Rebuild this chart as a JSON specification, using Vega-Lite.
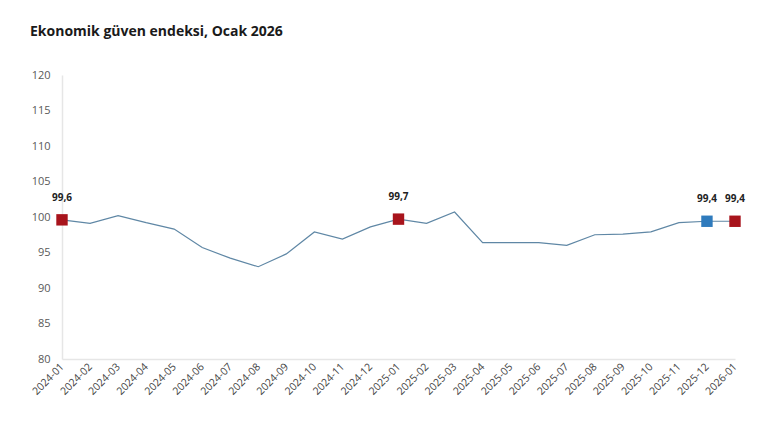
{
  "$schema": "https://vega.github.io/schema/vega-lite/v6.json",
  "autosize": "none",
  "width": 673,
  "height": 284,
  "padding": {"left": 62, "top": 75, "right": 35, "bottom": 78},
  "background": "white",
  "config": {
    "view": {"stroke": null},
    "font": "Open Sans",
    "locale": {"number": {"decimal": ",", "thousands": ".", "grouping": [3], "currency": ["", " TL"]}}
  },
  "title": {
    "text": "Ekonomik güven endeksi, Ocak 2026",
    "anchor": "start",
    "frame": "group",
    "fontSize": 14,
    "fontWeight": "bold",
    "font": "Open Sans",
    "color": "#1a1a1a",
    "dx": -32,
    "offset": 30
  },
  "data": {
    "values": [
      {"ay": "2024-01", "deger": 99.6, "vurgu": "ocak"},
      {"ay": "2024-02", "deger": 99.1},
      {"ay": "2024-03", "deger": 100.2},
      {"ay": "2024-04", "deger": 99.2},
      {"ay": "2024-05", "deger": 98.3},
      {"ay": "2024-06", "deger": 95.7},
      {"ay": "2024-07", "deger": 94.2},
      {"ay": "2024-08", "deger": 93.0},
      {"ay": "2024-09", "deger": 94.8},
      {"ay": "2024-10", "deger": 97.9},
      {"ay": "2024-11", "deger": 96.9},
      {"ay": "2024-12", "deger": 98.6},
      {"ay": "2025-01", "deger": 99.7, "vurgu": "ocak"},
      {"ay": "2025-02", "deger": 99.1},
      {"ay": "2025-03", "deger": 100.7},
      {"ay": "2025-04", "deger": 96.4},
      {"ay": "2025-05", "deger": 96.4},
      {"ay": "2025-06", "deger": 96.4},
      {"ay": "2025-07", "deger": 96.0},
      {"ay": "2025-08", "deger": 97.5},
      {"ay": "2025-09", "deger": 97.6},
      {"ay": "2025-10", "deger": 97.9},
      {"ay": "2025-11", "deger": 99.2},
      {"ay": "2025-12", "deger": 99.4, "vurgu": "onceki"},
      {"ay": "2026-01", "deger": 99.4, "vurgu": "ocak"}
    ]
  },
  "encoding": {
    "x": {
      "field": "ay",
      "type": "ordinal",
      "scale": {"type": "point", "padding": 0},
      "axis": {
        "title": null,
        "labelAngle": -45,
        "labelAlign": "right",
        "labelBaseline": "middle",
        "labelFontSize": 10.5,
        "labelColor": "#444444",
        "labelPadding": 6,
        "ticks": false,
        "domainColor": "#e6e6e6",
        "domainWidth": 1.5,
        "grid": false
      }
    },
    "y": {
      "field": "deger",
      "type": "quantitative",
      "scale": {"domain": [80, 120], "nice": false, "zero": false},
      "axis": {
        "title": null,
        "values": [80, 85, 90, 95, 100, 105, 110, 115, 120],
        "labelFontSize": 11,
        "labelColor": "#595959",
        "labelPadding": 12,
        "ticks": false,
        "grid": false,
        "domainColor": "#e6e6e6",
        "domainWidth": 1.5
      }
    }
  },
  "layer": [
    {
      "mark": {"type": "line", "color": "#5f87a5", "strokeWidth": 1.2}
    },
    {
      "transform": [{"filter": "datum.vurgu != null"}],
      "mark": {"type": "point", "shape": "square", "filled": true, "size": 130, "opacity": 1},
      "encoding": {
        "color": {
          "field": "vurgu",
          "type": "nominal",
          "scale": {"domain": ["ocak", "onceki"], "range": ["#a8141c", "#2f7bbd"]},
          "legend": null
        }
      }
    },
    {
      "transform": [{"filter": "datum.vurgu != null"}],
      "mark": {"type": "text", "dy": -22, "fontSize": 10, "fontWeight": "bold", "color": "#222222", "font": "Open Sans"},
      "encoding": {
        "text": {"field": "deger", "type": "quantitative", "format": ".1f"}
      }
    }
  ]
}
